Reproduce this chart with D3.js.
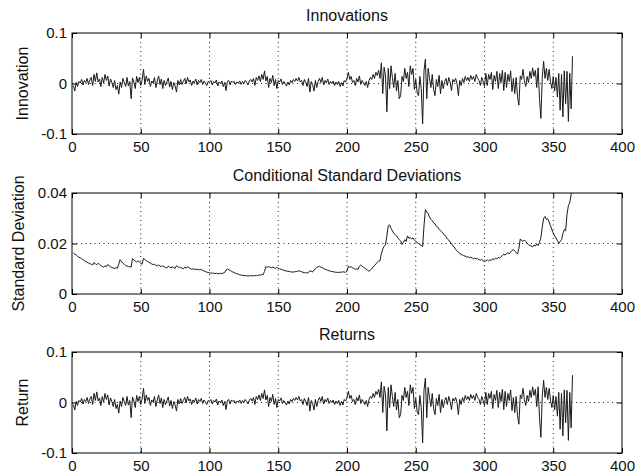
<!DOCTYPE html>
<html>
<head>
<meta charset="utf-8">
<script src="https://cdn.jsdelivr.net/npm/d3@7"></script>
<style>
  body { margin: 0; background: #fff; }
  text { font-family: "Liberation Sans", Arial, sans-serif; }
</style>
</head>
<body>
<div id="chart"></div>
<script>
// Values (x = 1..364)
const innovations = [
  -0.004, -0.015, 0.002, -0.006, 0.004, 0.001, 0.008, -0.003, 0.006, 0.002,
  0.010, -0.002, 0.007, 0.012, -0.004, 0.018, 0.004, 0.021, 0.003, 0.009,
  -0.006, 0.012, 0.001, 0.018, 0.006, 0.015, -0.005, 0.009, 0.002, -0.008,
  0.006, -0.012, -0.004, -0.021, 0.003, -0.008, 0.010, 0.002, -0.006, 0.012,
  -0.005, 0.004, -0.030, 0.011, 0.003, -0.010, 0.014, 0.002, 0.012, -0.004,
  0.007, 0.028, -0.002, 0.015, 0.004, 0.010, -0.006, 0.005, 0.001, 0.012,
  -0.008, 0.005, 0.015, -0.002, 0.009, -0.010, 0.006, -0.004, 0.003, 0.011,
  -0.007, 0.004, -0.012, 0.002, -0.005, -0.017, 0.006, -0.003, 0.008, -0.002,
  0.004, 0.010, -0.001, 0.012, 0.003, 0.007, -0.004, 0.005, 0.001, 0.009,
  -0.003, 0.006, 0.002, 0.008, -0.002, 0.005, 0.001, -0.004, 0.004, 0.002,
  0.006, -0.003, 0.004, 0.001, 0.007, -0.005, 0.003, 0.000, 0.005, -0.006,
  0.002, -0.014, 0.004, 0.006, -0.003, 0.005, 0.002, 0.004, -0.002, 0.003,
  0.001, 0.005, -0.002, 0.004, 0.000, 0.006, 0.002, -0.003, 0.005, 0.008,
  0.003, 0.010, -0.004, 0.012, 0.006, 0.015, 0.004, 0.018, 0.008, 0.025,
  0.005, 0.014, -0.008, 0.010, 0.002, 0.016, -0.004, 0.008, -0.010, 0.006,
  0.003, 0.009, -0.002, 0.004, 0.000, -0.005, 0.003, -0.003, 0.006, 0.002,
  0.008, 0.004, 0.010, 0.005, 0.012, 0.003, 0.006, -0.004, 0.008, 0.002,
  -0.006, 0.010, -0.017, 0.004, -0.002, -0.015, 0.006, -0.008, 0.004, 0.010,
  0.002, 0.012, -0.003, 0.006, 0.001, 0.009, -0.002, 0.004, 0.000, 0.005,
  -0.004, 0.003, -0.002, 0.004, -0.006, 0.002, -0.005, 0.006, 0.003, 0.010,
  0.022, 0.008, 0.014, 0.002, 0.006, -0.004, 0.010, 0.003, 0.015, -0.002,
  0.006, 0.001, -0.004, 0.004, -0.008, 0.006, 0.012, 0.008, 0.018, 0.010,
  0.022, 0.016, 0.026, 0.010, 0.041, -0.020, 0.032, 0.015, -0.056, 0.030,
  -0.010, 0.035, 0.012, -0.008, 0.020, -0.015, 0.006, -0.030, -0.024, 0.014,
  0.004, 0.030, 0.010, 0.022, -0.006, 0.035, 0.018, 0.030, -0.012, 0.008,
  -0.018, -0.024, 0.014, -0.010, -0.080, 0.025, 0.048, -0.030, 0.030, 0.010,
  -0.008, 0.018, -0.012, -0.024, 0.008, -0.006, 0.016, -0.020, 0.006, -0.010,
  0.004, 0.010, -0.004, 0.012, 0.002, -0.014, 0.008, 0.003, 0.010, 0.000,
  -0.024, 0.006, -0.004, 0.010, 0.002, 0.014, 0.006, 0.012, 0.004, 0.016,
  0.008, 0.014, 0.004, 0.018, 0.010, 0.006, -0.004, 0.012, 0.004, -0.006,
  0.020, -0.004, 0.018, 0.008, 0.022, -0.012, 0.016, 0.004, 0.024, -0.010,
  0.020, 0.002, 0.026, -0.014, 0.022, -0.008, 0.018, 0.004, 0.025, -0.016,
  0.010, -0.020, 0.012, -0.026, -0.043, 0.015, 0.008, 0.028, 0.006, -0.006,
  0.014, 0.002, 0.024, 0.010, 0.031, 0.014, 0.026, -0.008, 0.031, -0.030,
  -0.069, 0.012, 0.044, 0.010, 0.030, 0.006, 0.028, 0.004, -0.010, 0.014,
  -0.015, 0.012, -0.027, 0.020, -0.053, 0.018, -0.066, 0.025, -0.040, 0.024,
  -0.075, 0.020, -0.050, 0.054
];

// returns plot is the same trace as the innovations (mean ~ 0)
const returns = innovations.slice();

const sigmas = [
  0.0162, 0.0158, 0.0155, 0.0150, 0.0146, 0.0143, 0.0140, 0.0136, 0.0132, 0.0129,
  0.0126, 0.0123, 0.0120, 0.0118, 0.0115, 0.0125, 0.0120, 0.0116, 0.0122, 0.0117,
  0.0112, 0.0109, 0.0106, 0.0112, 0.0108, 0.0117, 0.0112, 0.0108, 0.0105, 0.0103,
  0.0101, 0.0104, 0.0102, 0.0118, 0.0136, 0.0128, 0.0122, 0.0117, 0.0113, 0.0111,
  0.0109, 0.0108, 0.0106, 0.0140, 0.0135, 0.0130, 0.0126, 0.0132, 0.0127, 0.0122,
  0.0118, 0.0142, 0.0136, 0.0132, 0.0128, 0.0125, 0.0122, 0.0119, 0.0116, 0.0118,
  0.0114, 0.0111, 0.0115, 0.0111, 0.0108, 0.0112, 0.0108, 0.0105, 0.0103, 0.0110,
  0.0107, 0.0104, 0.0108, 0.0104, 0.0102, 0.0112, 0.0108, 0.0104, 0.0106, 0.0102,
  0.0100, 0.0106, 0.0102, 0.0108, 0.0104, 0.0101, 0.0098, 0.0100, 0.0097, 0.0099,
  0.0096, 0.0098, 0.0095, 0.0097, 0.0094, 0.0091, 0.0089, 0.0087, 0.0085, 0.0084,
  0.0083, 0.0082, 0.0083, 0.0081, 0.0082, 0.0081, 0.0080, 0.0082, 0.0081, 0.0083,
  0.0085, 0.0095, 0.0099, 0.0096, 0.0093, 0.0090, 0.0087, 0.0085, 0.0082, 0.0080,
  0.0078, 0.0076, 0.0075, 0.0073, 0.0074, 0.0072, 0.0073, 0.0071, 0.0072, 0.0073,
  0.0071, 0.0073, 0.0072, 0.0074, 0.0073, 0.0076, 0.0074, 0.0078, 0.0076, 0.0090,
  0.0108, 0.0106, 0.0109, 0.0106, 0.0104, 0.0107, 0.0104, 0.0102, 0.0105, 0.0102,
  0.0100, 0.0098, 0.0096, 0.0094, 0.0092, 0.0091, 0.0090, 0.0089, 0.0088, 0.0087,
  0.0087, 0.0088, 0.0089, 0.0090, 0.0092, 0.0090, 0.0088, 0.0086, 0.0085, 0.0084,
  0.0083, 0.0085, 0.0092, 0.0090, 0.0087, 0.0095, 0.0100, 0.0105, 0.0108, 0.0110,
  0.0106, 0.0104, 0.0101, 0.0098, 0.0096, 0.0094, 0.0092, 0.0090, 0.0089, 0.0088,
  0.0087, 0.0086, 0.0086, 0.0085, 0.0087, 0.0086, 0.0088, 0.0087, 0.0086, 0.0090,
  0.0110, 0.0106, 0.0108, 0.0104, 0.0101, 0.0098, 0.0100, 0.0097, 0.0110, 0.0115,
  0.0110, 0.0106, 0.0102, 0.0098, 0.0094, 0.0090, 0.0095, 0.0100, 0.0108, 0.0112,
  0.0120, 0.0125, 0.0130, 0.0132, 0.0160, 0.0178, 0.0189, 0.0195, 0.0230, 0.0270,
  0.0274, 0.0260, 0.0250, 0.0240, 0.0236, 0.0230, 0.0222, 0.0215, 0.0210, 0.0196,
  0.0205, 0.0215, 0.0208, 0.0230, 0.0220, 0.0224, 0.0218, 0.0222, 0.0214, 0.0208,
  0.0204, 0.0200, 0.0196, 0.0192, 0.0188, 0.0270, 0.0334, 0.0325, 0.0318, 0.0305,
  0.0296, 0.0290, 0.0282, 0.0278, 0.0268, 0.0265, 0.0256, 0.0252, 0.0244, 0.0240,
  0.0232, 0.0228, 0.0218, 0.0214, 0.0205, 0.0200, 0.0190, 0.0186, 0.0176, 0.0172,
  0.0165, 0.0162, 0.0155, 0.0156, 0.0150, 0.0151, 0.0145, 0.0149, 0.0143, 0.0146,
  0.0143, 0.0139, 0.0143, 0.0138, 0.0141, 0.0136, 0.0134, 0.0137, 0.0132, 0.0128,
  0.0132, 0.0135, 0.0131, 0.0136, 0.0133, 0.0140, 0.0136, 0.0142, 0.0139, 0.0145,
  0.0142, 0.0148, 0.0152, 0.0158, 0.0154, 0.0160, 0.0163, 0.0159, 0.0166, 0.0172,
  0.0176, 0.0170, 0.0165, 0.0158, 0.0180, 0.0218, 0.0212, 0.0208, 0.0214, 0.0208,
  0.0200, 0.0195, 0.0192, 0.0190, 0.0186, 0.0194, 0.0190, 0.0198, 0.0192, 0.0205,
  0.0222, 0.0265, 0.0300, 0.0307, 0.0295, 0.0298, 0.0285, 0.0270, 0.0255, 0.0242,
  0.0230, 0.0222, 0.0212, 0.0200, 0.0208, 0.0215, 0.0240, 0.0255, 0.0250, 0.0315,
  0.0350, 0.0362, 0.0393, 0.0440
];

const xTicks = [0, 50, 100, 150, 200, 250, 300, 350, 400];
const returnTicks = [-0.1, 0, 0.1];
const returnTickLabels = ["-0.1", "0", "0.1"];
const sigmaTicks = [0, 0.02, 0.04];
const sigmaTickLabels = ["0", "0.02", "0.04"];

// Layout
const svgWidth = 635, svgHeight = 474;
const plotLeft = 72, plotRight = 622;
const panelTops = [33, 193, 352];
const panelHeight = 101;
const fontSize = 16, tickFontSize = 15;

const svg = d3.select("#chart")
  .append("svg")
  .attr("width", svgWidth)
  .attr("height", svgHeight)
  .style("background", "#fff");

const xScale = d3.scaleLinear()
  .domain([0, 400])
  .range([plotLeft, plotRight]);

const panels = [
  { title: "Innovations", ylabel: "Innovation", values: innovations,
    domain: [-0.1, 0.1], ticks: returnTicks, tickLabels: returnTickLabels, labelX: 28 },
  { title: "Conditional Standard Deviations", ylabel: "Standard Deviation", values: sigmas,
    domain: [0, 0.04], ticks: sigmaTicks, tickLabels: sigmaTickLabels, labelX: 24 },
  { title: "Returns", ylabel: "Return", values: returns,
    domain: [-0.1, 0.1], ticks: returnTicks, tickLabels: returnTickLabels, labelX: 28 }
];

function styleAxis(g) {
  g.attr("font-size", tickFontSize)
    .attr("font-family", "'Liberation Sans', Arial, sans-serif");
  g.select(".domain").remove();
  g.selectAll(".tick line").attr("stroke", "#000");
  g.selectAll(".tick text").attr("fill", "#111");
}

panels.forEach(function(p, i) {
  const top = panelTops[i];
  const bottom = top + panelHeight;

  const yScale = d3.scaleLinear()
    .domain(p.domain)
    .range([bottom, top]);

  const g = svg.append("g");

  svg.append("clipPath")
    .attr("id", `clip${i}`)
    .append("rect")
    .attr("x", plotLeft)
    .attr("y", top)
    .attr("width", plotRight - plotLeft)
    .attr("height", panelHeight);

  // dotted grid
  g.append("g")
    .selectAll("line")
    .data(xTicks.slice(1, -1))
    .join("line")
    .attr("x1", d => xScale(d))
    .attr("x2", d => xScale(d))
    .attr("y1", top)
    .attr("y2", bottom)
    .attr("stroke", "#222")
    .attr("stroke-width", 1)
    .attr("stroke-dasharray", "1,3.5");

  g.append("line")
    .attr("x1", plotLeft)
    .attr("x2", plotRight)
    .attr("y1", yScale(p.ticks[1]))
    .attr("y2", yScale(p.ticks[1]))
    .attr("stroke", "#222")
    .attr("stroke-width", 1)
    .attr("stroke-dasharray", "1,3.5");

  // the series
  const line = d3.line()
    .x((d, j) => xScale(j + 1))
    .y(d => yScale(d));

  g.append("path")
    .datum(p.values)
    .attr("clip-path", `url(#clip${i})`)
    .attr("fill", "none")
    .attr("stroke", "#1a1a1a")
    .attr("stroke-width", 1)
    .attr("stroke-linejoin", "round")
    .attr("d", line);

  // axes with inward ticks on all sides
  g.append("g")
    .attr("transform", `translate(0, ${bottom})`)
    .call(d3.axisBottom(xScale).tickValues(xTicks).tickSize(-5).tickPadding(7).tickFormat(d3.format("d")))
    .call(styleAxis);

  g.append("g")
    .attr("transform", `translate(0, ${top})`)
    .call(d3.axisTop(xScale).tickValues(xTicks).tickSize(-5).tickFormat(""))
    .call(styleAxis);

  g.append("g")
    .attr("transform", `translate(${plotLeft}, 0)`)
    .call(d3.axisLeft(yScale).tickValues(p.ticks).tickSize(-5).tickPadding(5)
      .tickFormat((d, k) => p.tickLabels[k]))
    .call(styleAxis);

  g.append("g")
    .attr("transform", `translate(${plotRight}, 0)`)
    .call(d3.axisRight(yScale).tickValues(p.ticks).tickSize(-5).tickFormat(""))
    .call(styleAxis);

  // box
  g.append("rect")
    .attr("x", plotLeft)
    .attr("y", top)
    .attr("width", plotRight - plotLeft)
    .attr("height", panelHeight)
    .attr("fill", "none")
    .attr("stroke", "#000")
    .attr("stroke-width", 1);

  // title and y label
  g.append("text")
    .attr("x", (plotLeft + plotRight) / 2)
    .attr("y", top - 12.5)
    .attr("text-anchor", "middle")
    .attr("font-size", fontSize)
    .attr("fill", "#111")
    .text(p.title);

  g.append("text")
    .attr("transform", `translate(${p.labelX}, ${(top + bottom) / 2}) rotate(-90)`)
    .attr("text-anchor", "middle")
    .attr("font-size", fontSize)
    .attr("fill", "#111")
    .text(p.ylabel);
});
</script>
</body>
</html>
